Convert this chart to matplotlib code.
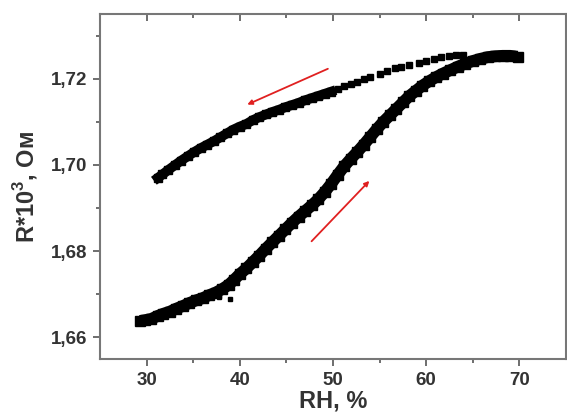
import matplotlib
matplotlib.use("Agg")
import matplotlib.pyplot as plt

plt.rcParams['font.family'] = ['Liberation Sans', 'DejaVu Sans']
plt.rcParams['mathtext.fontset'] = 'custom'
plt.rcParams['mathtext.rm'] = 'Liberation Sans'
plt.rcParams['mathtext.bf'] = 'Liberation Sans:bold'

# humidity up (adsorption branch)
rh_up = [29.3, 29.8, 30.5, 31.2, 31.8, 32.5, 33.2, 33.9, 34.6, 35.3, 36.0, 36.7,
         37.4, 38.1, 38.8, 39.4, 40.0, 40.7, 41.4, 42.1, 42.8, 43.5, 44.2, 44.9,
         45.6, 46.3, 47.0, 47.7, 48.4, 49.1, 49.8, 50.5, 51.2, 51.9, 52.6, 53.3,
         54.0, 54.7, 55.4, 56.1, 56.8, 57.5, 58.2, 58.9, 59.6, 60.3, 61.0, 61.8,
         62.6, 63.4, 64.2, 65.0, 65.8, 66.6, 67.4, 68.2, 69.0, 69.8]
r_up = [1.6638, 1.6640, 1.6643, 1.6650, 1.6655, 1.6660, 1.6667, 1.6673, 1.6680,
        1.6686, 1.6691, 1.6698, 1.6704, 1.6712, 1.6722, 1.6734, 1.6747, 1.6760,
        1.6775, 1.6790, 1.6806, 1.6821, 1.6836, 1.6851, 1.6866, 1.6880, 1.6893,
        1.6906, 1.6920, 1.6937, 1.6956, 1.6977, 1.6997, 1.7014, 1.7030, 1.7047,
        1.7065, 1.7083, 1.7100, 1.7115, 1.7130, 1.7145, 1.7160, 1.7172, 1.7184,
        1.7194, 1.7203, 1.7212, 1.7220, 1.7228, 1.7235, 1.7241, 1.7246, 1.7250,
        1.7252, 1.7253, 1.7253, 1.7251]
# a few stray points under the up branch
rh_stray = [37.8, 38.9]
r_stray = [1.6694, 1.6690]

# humidity down (desorption branch), dense part
rh_down = [31.2, 31.7, 32.3, 33.0, 33.7, 34.4, 35.1, 35.8, 36.5, 37.2, 37.9, 38.6,
           39.3, 40.0, 40.7, 41.4, 42.1, 42.8, 43.5, 44.2, 44.9, 45.6, 46.3, 47.0,
           47.7, 48.4, 49.1, 49.8]
r_down = [1.6970, 1.6978, 1.6988, 1.6999, 1.7010, 1.7020, 1.7030, 1.7039, 1.7047,
          1.7055, 1.7064, 1.7073, 1.7082, 1.7089, 1.7095, 1.7104, 1.7111, 1.7117,
          1.7123, 1.7128, 1.7134, 1.7139, 1.7144, 1.7150, 1.7155, 1.7160, 1.7165,
          1.7170]
# sparse part of the desorption branch
rh_down2 = [50.5, 51.2, 51.9, 52.6, 53.3, 54.0, 55.0, 55.8, 56.6, 57.3, 58.2,
            59.2, 60.0, 60.8, 61.6, 62.4, 63.2, 64.0]
r_down2 = [1.7176, 1.7182, 1.7188, 1.7192, 1.7199, 1.7205, 1.7212, 1.7218, 1.7225,
           1.7228, 1.7231, 1.7236, 1.7240, 1.7245, 1.7250, 1.7253, 1.7255, 1.7256]

# direction arrows: (tail, head)
arrow_down = [(49.45, 1.7223), (40.8, 1.7140)]
arrow_up = [(47.7, 1.6823), (53.9, 1.6963)]

fig = plt.figure(figsize=(5.67, 4.18), dpi=100)
ax = fig.add_axes([0.1764, 0.1411, 0.8218, 0.8254])

ax.plot(rh_up, r_up, color='black', lw=8.5, solid_capstyle='butt')
ax.plot(rh_up, r_up, 's', color='black', ms=7)
ax.plot(rh_stray, r_stray, 's', color='black', ms=3.5)
ax.plot(rh_down, r_down, color='black', lw=7)
ax.plot(rh_down, r_down, 's', color='black', ms=6)
ax.plot(rh_down2, r_down2, 's', color='black', ms=4)

for tail, head in [arrow_down, arrow_up]:
    ax.annotate('', xy=head, xytext=tail,
                arrowprops=dict(arrowstyle='-|>', color='#e02020', lw=1.3,
                                mutation_scale=7, shrinkA=0, shrinkB=0))

ax.set_xlim(25, 75)
ax.set_ylim(1.655, 1.735)
ax.set_xticks([30, 40, 50, 60, 70])
ax.set_xticks([35, 45, 55, 65], minor=True)
ax.set_yticks([1.66, 1.68, 1.70, 1.72])
ax.set_yticks([1.67, 1.69, 1.71, 1.73], minor=True)
ax.set_yticklabels(['1,66', '1,68', '1,70', '1,72'])

for s in ax.spines.values():
    s.set_color('#777777')
    s.set_linewidth(1.5)

# bottom/left ticks point outward
ax.tick_params(which='both', direction='out', color='#555555', width=1.2,
               top=False, right=False)
ax.tick_params(axis='both', which='major', length=5, labelsize=13.5,
               labelcolor='#333333', pad=4)
ax.tick_params(axis='both', which='minor', length=3)
for lab in ax.get_xticklabels() + ax.get_yticklabels():
    lab.set_fontweight('bold')

# top ticks point inward
sec_x = ax.secondary_xaxis('top')
sec_x.set_xticks([30, 40, 50, 60, 70])
sec_x.set_xticks([35, 45, 55, 65], minor=True)
sec_x.tick_params(which='both', direction='in', color='#555555', width=1.2,
                  labeltop=False)
sec_x.tick_params(which='major', length=5)
sec_x.tick_params(which='minor', length=3)
sec_x.spines['top'].set_visible(False)

ax.set_xlabel('RH, %', fontsize=17, fontweight='bold', color='#333333', labelpad=1)
ax.set_ylabel(r'R*10$^{\mathbf{3}}$, Ом', fontsize=17, fontweight='bold',
              color='#333333', labelpad=8)

fig.savefig('out.png', dpi=100)
